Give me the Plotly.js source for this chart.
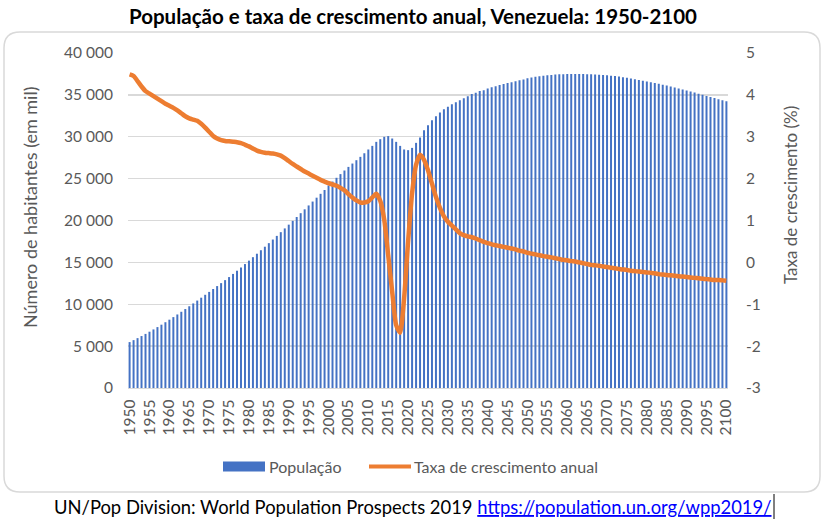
<!DOCTYPE html>
<html>
<head>
<meta charset="utf-8">
<script src="https://cdn.plot.ly/plotly-3.0.1.min.js"></script>
<style>html,body{margin:0;padding:0;background:#fff;}#chart{width:826px;height:523px;}</style>
</head>
<body>
<div id="chart"></div>
<script>
const years = [
1950,1951,1952,1953,1954,1955,1956,1957,1958,1959,
1960,1961,1962,1963,1964,1965,1966,1967,1968,1969,
1970,1971,1972,1973,1974,1975,1976,1977,1978,1979,
1980,1981,1982,1983,1984,1985,1986,1987,1988,1989,
1990,1991,1992,1993,1994,1995,1996,1997,1998,1999,
2000,2001,2002,2003,2004,2005,2006,2007,2008,2009,
2010,2011,2012,2013,2014,2015,2016,2017,2018,2019,
2020,2021,2022,2023,2024,2025,2026,2027,2028,2029,
2030,2031,2032,2033,2034,2035,2036,2037,2038,2039,
2040,2041,2042,2043,2044,2045,2046,2047,2048,2049,
2050,2051,2052,2053,2054,2055,2056,2057,2058,2059,
2060,2061,2062,2063,2064,2065,2066,2067,2068,2069,
2070,2071,2072,2073,2074,2075,2076,2077,2078,2079,
2080,2081,2082,2083,2084,2085,2086,2087,2088,2089,
2090,2091,2092,2093,2094,2095,2096,2097,2098,2099,
2100];

// População (milhares)
const populacao = [
5482,5715,5955,6203,6458,6722,6994,7273,7560,7854,
8156,8465,8780,9101,9428,9761,10098,10439,10783,11129,
11475,11822,12170,12522,12880,13245,13620,14004,14397,14799,
15208,15620,16034,16450,16870,17296,17727,18164,18607,19054,
19504,19958,20415,20874,21335,21798,22262,22725,23185,23640,
24192,24650,25100,25540,25970,26400,26800,27200,27600,28030,
28480,28910,29390,29710,29990,30080,29790,29390,28910,28480,
28400,28670,29270,29910,30780,31380,31980,32460,32900,33290,
33570,33890,34130,34370,34610,34850,35090,35250,35450,35560,
35750,35900,36040,36170,36290,36410,36520,36630,36740,36840,
37000,37080,37150,37220,37290,37340,37380,37420,37450,37470,
37480,37490,37490,37490,37480,37470,37460,37440,37410,37380,
37340,37290,37240,37180,37110,37040,36960,36880,36790,36700,
36610,36520,36430,36330,36220,36110,36000,35880,35760,35640,
35520,35400,35270,35140,35010,34880,34750,34620,34490,34370,
34250];

// Taxa de crescimento anual (%)
const taxa = [
4.49,4.45,4.33,4.20,4.09,4.03,3.97,3.91,3.85,3.79,
3.74,3.69,3.63,3.56,3.49,3.44,3.41,3.38,3.31,3.22,
3.12,3.02,2.96,2.92,2.90,2.89,2.88,2.87,2.85,2.81,
2.77,2.72,2.67,2.64,2.62,2.61,2.60,2.58,2.55,2.49,
2.42,2.35,2.29,2.23,2.17,2.12,2.07,2.02,1.97,1.93,
1.89,1.86,1.83,1.78,1.72,1.63,1.55,1.48,1.43,1.43,
1.46,1.55,1.64,1.47,1.02,0.17,-0.70,-1.50,-1.68,-0.85,
0.50,1.65,2.33,2.57,2.45,2.20,1.88,1.56,1.30,1.10,
0.97,0.88,0.79,0.70,0.65,0.62,0.60,0.57,0.53,0.49,
0.46,0.43,0.41,0.39,0.37,0.35,0.33,0.31,0.28,0.26,
0.23,0.21,0.19,0.17,0.15,0.135,0.12,0.10,0.08,0.06,
0.05,0.03,0.02,0.00,-0.02,-0.04,-0.06,-0.07,-0.08,-0.10,
-0.11,-0.13,-0.14,-0.16,-0.17,-0.18,-0.20,-0.21,-0.22,-0.23,
-0.24,-0.25,-0.26,-0.28,-0.29,-0.30,-0.31,-0.32,-0.33,-0.34,
-0.35,-0.36,-0.37,-0.38,-0.39,-0.40,-0.41,-0.42,-0.42,-0.43,
-0.44];

const xTicks = [1950,1955,1960,1965,1970,1975,1980,1985,1990,1995,2000,2005,2010,2015,2020,2025,2030,2035,2040,2045,2050,2055,2060,2065,2070,2075,2080,2085,2090,2095,2100];
const y2Vals = [-3,-2,-1,0,1,2,3,4,5];
const y2Text = ['-3','-2','-1','0','1','2','3','4','5'];

const seriesNames = ['População', 'Taxa de crescimento anual'];
const titleText = 'População e taxa de crescimento anual, Venezuela: 1950-2100';
const yTitle = 'Número de habitantes (em mil)';
const y2Title = 'Taxa de crescimento (%)';
const footerText = 'UN/Pop Division: World Population Prospects 2019 ';
const footerLink = 'https://population.un.org/wpp2019/';

// layout geometry (pixels)
const W = 826, H = 523;
const M = {l: 128, r: 98, t: 53, b: 135};
const PW = W - M.l - M.r, PH = H - M.t - M.b;
const px = x => (x - M.l) / PW;
const py = y => (H - M.b - y) / PH;

const FONT = 'Lato, "Open Sans", sans-serif';
const GRAY = '#595959';
const BLUE = '#4472C4';
const ORANGE = '#ED7D31';

// rounded border path (paper coords)
function roundRect(x0, y0, x1, y1, r) {
  const P = (x, y) => px(x) + ',' + py(y);
  return 'M' + P(x0 + r, y0) + ' L' + P(x1 - r, y0) + ' Q' + P(x1, y0) + ' ' + P(x1, y0 + r) +
    ' L' + P(x1, y1 - r) + ' Q' + P(x1, y1) + ' ' + P(x1 - r, y1) +
    ' L' + P(x0 + r, y1) + ' Q' + P(x0, y1) + ' ' + P(x0, y1 - r) +
    ' L' + P(x0, y0 + r) + ' Q' + P(x0, y0) + ' ' + P(x0 + r, y0) + ' Z';
}

const traces = [
  {
    type: 'bar', name: seriesNames[0], x: years, y: populacao,
    marker: {color: BLUE, line: {width: 0}}, yaxis: 'y', showlegend: false,
    hoverinfo: 'x+y'
  },
  {
    type: 'scatter', mode: 'lines', name: seriesNames[1], x: years, y: taxa,
    line: {color: ORANGE, width: 4.5, shape: 'spline', smoothing: 0.6},
    yaxis: 'y2', showlegend: false
  }
];

const layout = {
  width: W, height: H,
  margin: M,
  paper_bgcolor: '#ffffff', plot_bgcolor: 'rgba(0,0,0,0)',
  separators: ', ',
  font: {family: FONT, color: GRAY, size: 15},
  bargap: 0.5,
  showlegend: false,
  title: {
    text: '<b>' + titleText + '</b>',
    x: 0.5, xref: 'container', xanchor: 'center',
    y: 1 - 17 / H, yref: 'container', yanchor: 'middle',
    font: {family: FONT, size: 20.5, color: '#000000'}
  },
  xaxis: {
    type: 'linear', range: [1949.6, 2100.4],
    tickmode: 'array', tickvals: xTicks,
    tickangle: -90, ticks: '', showgrid: false, zeroline: false,
    showline: true, linecolor: '#D9D9D9', linewidth: 1.3,
    ticklabelstandoff: 4,
    tickfont: {family: FONT, size: 15.5, color: GRAY}
  },
  yaxis: {
    range: [0, 40000], dtick: 5000, tick0: 0,
    tickformat: ',d', separatethousands: true,
    showgrid: true, gridcolor: '#D9D9D9', gridwidth: 1.3,
    zeroline: false, ticks: '', ticklabelstandoff: 14,
    tickfont: {family: FONT, size: 15.5, color: GRAY}
  },
  yaxis2: {
    overlaying: 'y', side: 'right', range: [-3, 5],
    tickmode: 'array', tickvals: y2Vals, ticktext: y2Text,
    showgrid: false, zeroline: false, ticks: '', ticklabelstandoff: 17,
    tickfont: {family: FONT, size: 15.5, color: GRAY}
  },
  shapes: [
    {type: 'path', xref: 'paper', yref: 'paper', layer: 'below',
     path: roundRect(4, 32, 820, 492, 16), line: {color: '#D9D9D9', width: 1.5}, fillcolor: 'rgba(0,0,0,0)'},
    // legend symbols
    {type: 'rect', xref: 'paper', yref: 'paper', x0: px(223), x1: px(265), y0: py(471.5), y1: py(461.5),
     fillcolor: BLUE, line: {width: 0}},
    {type: 'line', xref: 'paper', yref: 'paper', x0: px(369), x1: px(411), y0: py(466.5), y1: py(466.5),
     line: {color: ORANGE, width: 4}},
    // text cursor after link
    {type: 'line', xref: 'paper', yref: 'paper', x0: px(774), x1: px(774), y0: py(494), y1: py(519),
     line: {color: '#000000', width: 1}}
  ],
  annotations: [
    {text: yTitle, xref: 'paper', yref: 'paper', x: px(30), y: py(207), textangle: -90,
     showarrow: false, xanchor: 'center', yanchor: 'middle', font: {family: FONT, size: 18, color: GRAY}},
    {text: y2Title, xref: 'paper', yref: 'paper', x: px(790), y: py(195), textangle: -90,
     showarrow: false, xanchor: 'center', yanchor: 'middle', font: {family: FONT, size: 17, color: GRAY}},
    {text: seriesNames[0], xref: 'paper', yref: 'paper', x: px(267), y: py(466.5),
     showarrow: false, xanchor: 'left', yanchor: 'middle', font: {family: FONT, size: 16, color: GRAY}},
    {text: seriesNames[1], xref: 'paper', yref: 'paper', x: px(412), y: py(466.5),
     showarrow: false, xanchor: 'left', yanchor: 'middle', font: {family: FONT, size: 16, color: GRAY}},
    {text: footerText + '<span style="color:#0000FF"><u>' + footerLink + '</u></span>',
     xref: 'paper', yref: 'paper', x: px(52), y: py(507),
     showarrow: false, xanchor: 'left', yanchor: 'middle', font: {family: FONT, size: 18.4, color: '#000000'}}
  ]
};

Plotly.newPlot('chart', traces, layout, {displayModeBar: false, staticPlot: true});
</script>
</body>
</html>
